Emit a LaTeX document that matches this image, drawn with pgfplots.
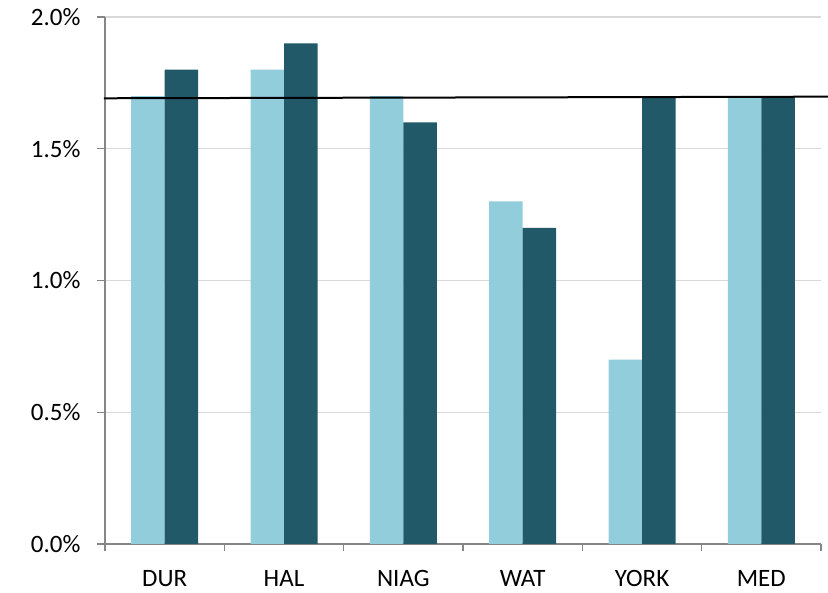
\documentclass[border=0pt]{standalone}
\usepackage{pgfplots}
\pgfplotsset{compat=1.18}
\usepackage{fontspec}
\setmainfont{Carlito}
\definecolor{lightbar}{HTML}{92CDDC}
\definecolor{darkbar}{HTML}{215968}
\definecolor{axgray}{HTML}{868686}
\definecolor{gridgray}{HTML}{D9D9D9}
\begin{document}
\fontsize{25}{30}\selectfont
\begin{tikzpicture}
\begin{axis}[
  at={(105pt,49pt)}, anchor=south west,
  scale only axis, width=716pt, height=527pt,
  xmin=-0.5, xmax=5.5, ymin=0, ymax=2,
  axis lines=left, axis line style={-, draw=axgray, line width=1.2pt},
  clip=false,
  ybar=0pt, bar width=33.5pt,
  xtick={0,...,5}, xticklabels={DUR,HAL,NIAG,WAT,YORK,MED},
  major x tick style={draw=none},
  minor xtick={-0.5,0.5,...,5.5},
  minor tick length=7pt,
  minor x tick style={draw=axgray, line width=1.2pt},
  ytick={0,0.5,1,1.5,2},
  major tick length=8pt,
  tick align=outside,
  y tick style={draw=axgray, line width=1.2pt},
  ymajorgrids, grid style={draw=gridgray, line width=1.2pt},
  /pgf/number format/assume math mode=true,
  yticklabel={\pgfmathprintnumber[fixed,fixed zerofill,precision=1]{\tick}\%},
  ticklabel style={font=\fontsize{25}{30}\selectfont},
  yticklabel style={xshift=-8pt},
  xticklabel style={yshift=-10pt},
]
\addplot[fill=lightbar, draw=none] coordinates {(0,1.7) (1,1.8) (2,1.7) (3,1.3) (4,0.7) (5,1.7)};
\addplot[fill=darkbar, draw=none] coordinates {(0,1.8) (1,1.9) (2,1.6) (3,1.2) (4,1.7) (5,1.7)};
\addplot[sharp plot, black, line width=2pt, forget plot] coordinates {(-0.51,1.6915) (5.56,1.6976)};
\end{axis}
\pgfresetboundingbox
\useasboundingbox (0,0) rectangle (828pt,593pt);
\end{tikzpicture}
\end{document}
